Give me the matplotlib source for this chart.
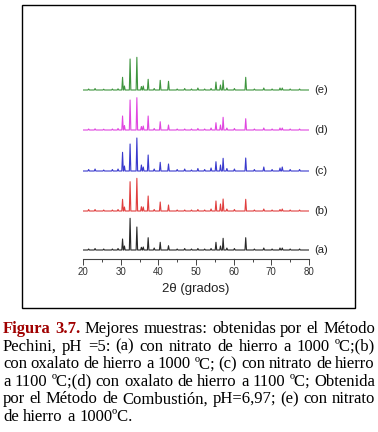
import matplotlib
matplotlib.use('Agg')
import matplotlib.pyplot as plt
from matplotlib.patches import Rectangle
from matplotlib.ticker import MultipleLocator

# peak positions (2theta, degrees) shared by all patterns
peak_pos = [21.5, 23.2, 25.5, 27.8, 29.3, 30.5, 31.0, 32.5, 34.3, 35.5, 36.0,
            37.3, 38.9, 40.5, 42.7, 45.0, 47.0, 48.8, 50.5, 52.3, 54.0, 55.3,
            56.5, 57.2, 58.2, 60.2, 63.2, 65.5, 68.0, 70.2, 72.3, 72.9, 75.0, 77.5]

# peak intensities (arbitrary units)
int_a = [1, 1.5, 1, 1, 1.5, 11, 4, 31.7, 23, 2.7, 3, 12.3, 2, 7.7, 4.3, 1, 1.5,
         1, 1.5, 1, 1.5, 7.7, 4, 11.7, 2, 1.5, 12.3, 1, 2, 1, 2, 2, 1, 1]
int_b = [1.5, 1.5, 1, 1, 1.5, 11.7, 4, 29.3, 32.7, 4.3, 4, 15, 1.5, 9, 6, 1, 1,
         1, 1.5, 1, 2, 10, 7, 12, 2, 1.5, 11.7, 1, 2, 1, 1.5, 2, 1, 1]
int_c = [1.5, 2, 1, 1.5, 2, 18.7, 5, 27, 33, 6, 4, 16, 2, 8.7, 7, 1.5, 2,
         1, 2.5, 1.5, 3, 9.3, 6, 12.7, 2.5, 2, 13, 1.5, 4, 1.5, 3, 4, 1.5, 1.5]
int_d = [1, 1.2, 0.8, 1, 1.5, 14, 4.5, 30, 32.3, 3.5, 4, 14, 1.5, 8.3, 5, 1, 1,
         1, 1.5, 1, 2, 7.3, 5, 12.7, 2, 1.5, 11.3, 1, 2, 1, 2, 2, 1, 1]
int_e = [1, 1.5, 0.8, 1, 1.2, 12.7, 4, 31, 32.7, 3.5, 4, 10.7, 1.5, 9.7, 8.7, 1,
         1.5, 1, 2, 1, 1.5, 8, 5, 9.7, 2, 1.5, 12.7, 1, 2, 1, 2, 2, 1, 1]

series_labels = ['(a)', '(b)', '(c)', '(d)', '(e)']
offsets = [0, 39, 79, 120, 160]
colors = ['#111111', '#dd2a2a', '#2424c8', '#dd33dd', '#2a8a2a']

caption = [
    [('Figura', 'b'), ('3.7.', 'b'), ('Mejores', 'n'), ('muestras:', 'n'), ('obtenidas', 'n'),
     ('por', 'n'), ('el', 'n'), ('Método', 'n')],
    'Pechini, pH =5: (a) con nitrato de hierro a 1000 ºC;(b)',
    'con oxalato de hierro a 1000 ºC; (c) con nitrato de hierro',
    'a 1100 ºC;(d) con oxalato de hierro a 1100 ºC; Obtenida',
    'por el Método de Combustión, pH=6,97; (e) con nitrato',
    'de hierro a 1000ºC.',
]


def pattern(xmin, xmax, pos, heights, hw=0.2):
    xs, ys = [xmin], [0]
    for p, h in zip(pos, heights):
        xs += [p - hw, p, p + hw]
        ys += [0, h, 0]
    xs.append(xmax)
    ys.append(0)
    return xs, ys


W, H = 378, 432
fig = plt.figure(figsize=(W / 100, H / 100), dpi=100)

fig.patches.append(Rectangle((22 / W, 1 - 308 / H), 333 / W, 303 / H, transform=fig.transFigure,
                             fill=False, lw=1.0, ec='black'))

ax = fig.add_axes([83 / W, 1 - 259 / H, 226 / W, 219 / H])
for inten, off, col, lab in zip([int_a, int_b, int_c, int_d, int_e], offsets, colors, series_labels):
    xs, ys = pattern(20, 80, peak_pos, inten)
    ax.plot(xs, [y + off for y in ys], color=col, lw=0.8, alpha=0.9)
    ax.text(81.3, off, lab, fontsize=8, color='#222222', va='center', ha='left',
            family='Liberation Sans', clip_on=False)

ax.set_xlim(20, 80)
ax.set_ylim(-9, 210)
for s in ['left', 'right', 'top']:
    ax.spines[s].set_visible(False)
ax.spines['bottom'].set_linewidth(0.8)
ax.spines['bottom'].set_color('#444444')
ax.set_yticks([])
ax.xaxis.set_major_locator(MultipleLocator(10))
ax.xaxis.set_minor_locator(MultipleLocator(5))
ax.tick_params(axis='x', which='major', length=4, width=0.7, color='#444444', labelsize=7,
               labelcolor='#333333', pad=2)
ax.tick_params(axis='x', which='minor', length=2, width=0.7, color='#444444')
for t in ax.get_xticklabels():
    t.set_family('Liberation Sans')
ax.set_xlabel('2θ (grados)', fontsize=9.5, color='#222222', family='Liberation Sans', labelpad=4)

# justified caption
renderer = fig.canvas.get_renderer()
left, right = 3, 375
base0, step = 333, 17.6
fs = 12
for i, line in enumerate(caption):
    toks = line if isinstance(line, list) else [(w, 'n') for w in line.split()]
    y = 1 - (base0 + i * step) / H
    texts = []
    for w, st in toks:
        kw = dict(fontsize=fs, family='Liberation Serif', va='baseline', ha='left')
        if st == 'b':
            kw.update(weight='bold', color='#a00000')
        t = fig.text(0, y, w, **kw)
        texts.append(t)
    widths = [t.get_window_extent(renderer).width for t in texts]
    if i < len(caption) - 1:
        gap = (right - left - sum(widths)) / (len(texts) - 1)
    else:
        gap = 4.5
    x = left
    for t, wd in zip(texts, widths):
        t.set_x(x / W)
        x += wd + gap

fig.savefig('out.png', dpi=100)
